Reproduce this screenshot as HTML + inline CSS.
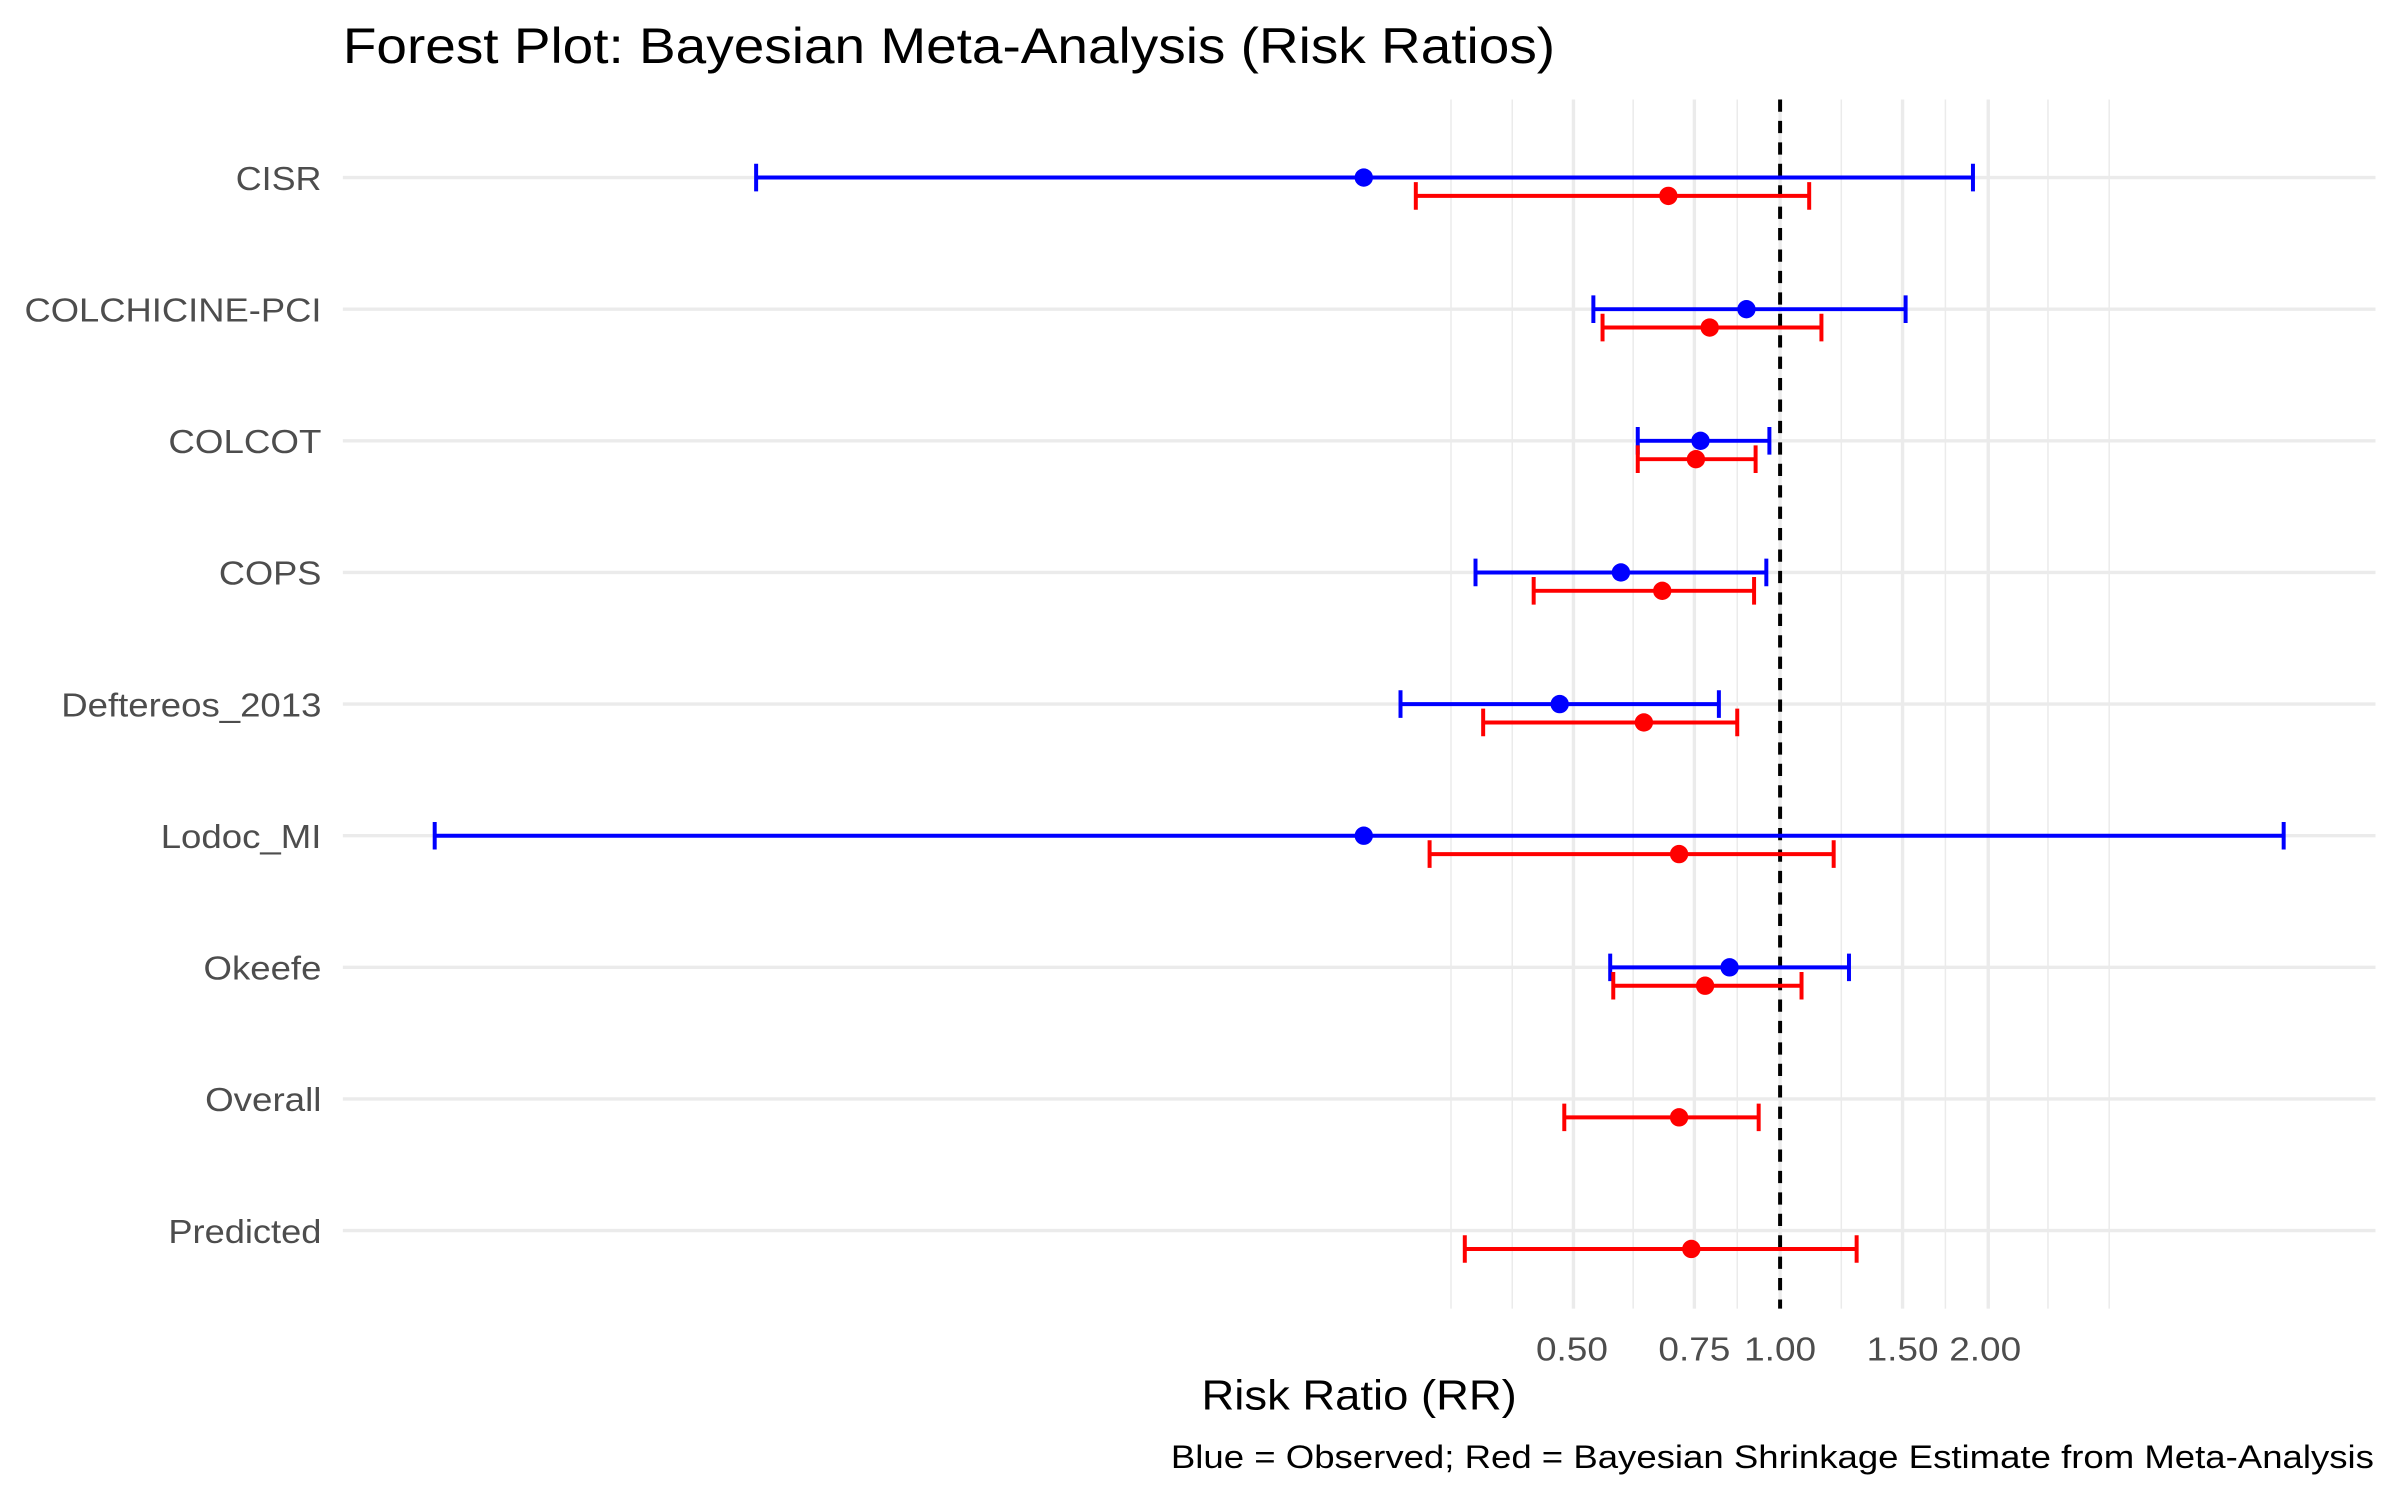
<!DOCTYPE html>
<html><head><meta charset="utf-8"><style>html,body{margin:0;padding:0;background:#fff}svg{display:block}</style></head>
<body>
<svg width="2400" height="1500" viewBox="0 0 1568 980" xmlns="http://www.w3.org/2000/svg" font-family="Liberation Sans, sans-serif">
<rect width="1568" height="980" fill="#fff"/>
<g stroke="#ebebeb" stroke-width="1">
<line x1="948" y1="65" x2="948" y2="855"/><line x1="988" y1="65" x2="988" y2="855"/>
<line x1="1067" y1="65" x2="1067" y2="855"/><line x1="1135" y1="65" x2="1135" y2="855"/>
<line x1="1203" y1="65" x2="1203" y2="855"/><line x1="1271" y1="65" x2="1271" y2="855"/>
<line x1="1338" y1="65" x2="1338" y2="855"/><line x1="1378" y1="65" x2="1378" y2="855"/>
</g>
<g stroke="#ebebeb" stroke-width="2.2">
<line x1="1028" y1="65" x2="1028" y2="855"/><line x1="1107" y1="65" x2="1107" y2="855"/>
<line x1="1163" y1="65" x2="1163" y2="855"/><line x1="1243" y1="65" x2="1243" y2="855"/>
<line x1="1299" y1="65" x2="1299" y2="855"/>
<line x1="224" y1="116" x2="1552" y2="116"/><line x1="224" y1="202" x2="1552" y2="202"/>
<line x1="224" y1="288" x2="1552" y2="288"/><line x1="224" y1="374" x2="1552" y2="374"/>
<line x1="224" y1="460" x2="1552" y2="460"/><line x1="224" y1="546" x2="1552" y2="546"/>
<line x1="224" y1="632" x2="1552" y2="632"/><line x1="224" y1="718" x2="1552" y2="718"/>
<line x1="224" y1="804" x2="1552" y2="804"/>
</g>
<line x1="1163" y1="65" x2="1163" y2="855" stroke="#000" stroke-width="2.6" stroke-dasharray="8,6"/>
<g stroke-width="2.6" fill="none">
<path stroke="#0000ff" d="M494 116H1289M494 107V125M1289 107V125"/>
<path stroke="#ff0000" d="M925 128H1182M925 119V137M1182 119V137"/>
<path stroke="#0000ff" d="M1041 202H1245M1041 193V211M1245 193V211"/>
<path stroke="#ff0000" d="M1047 214H1190M1047 205V223M1190 205V223"/>
<path stroke="#0000ff" d="M1070 288H1156M1070 279V297M1156 279V297"/>
<path stroke="#ff0000" d="M1070 300H1147M1070 291V309M1147 291V309"/>
<path stroke="#0000ff" d="M964 374H1154M964 365V383M1154 365V383"/>
<path stroke="#ff0000" d="M1002 386H1146M1002 377V395M1146 377V395"/>
<path stroke="#0000ff" d="M915 460H1123M915 451V469M1123 451V469"/>
<path stroke="#ff0000" d="M969 472H1135M969 463V481M1135 463V481"/>
<path stroke="#0000ff" d="M284 546H1492M284 537V555M1492 537V555"/>
<path stroke="#ff0000" d="M934 558H1198M934 549V567M1198 549V567"/>
<path stroke="#0000ff" d="M1052 632H1208M1052 623V641M1208 623V641"/>
<path stroke="#ff0000" d="M1054 644H1177M1054 635V653M1177 635V653"/>
<path stroke="#ff0000" d="M1022 730H1149M1022 721V739M1149 721V739"/>
<path stroke="#ff0000" d="M957 816H1213M957 807V825M1213 807V825"/>
</g>
<g fill="#0000ff">
<circle cx="891" cy="116" r="6"/><circle cx="1141" cy="202" r="6"/><circle cx="1111" cy="288" r="6"/>
<circle cx="1059" cy="374" r="6"/><circle cx="1019" cy="460" r="6"/><circle cx="891" cy="546" r="6"/>
<circle cx="1130" cy="632" r="6"/>
</g>
<g fill="#ff0000">
<circle cx="1090" cy="128" r="6"/><circle cx="1117" cy="214" r="6"/><circle cx="1108" cy="300" r="6"/>
<circle cx="1086" cy="386" r="6"/><circle cx="1074" cy="472" r="6"/><circle cx="1097" cy="558" r="6"/>
<circle cx="1114" cy="644" r="6"/><circle cx="1097" cy="730" r="6"/><circle cx="1105" cy="816" r="6"/>
</g>
<g fill="#4d4d4d" font-size="22" text-anchor="end" lengthAdjust="spacingAndGlyphs">
<text x="210" y="124" textLength="56" lengthAdjust="spacingAndGlyphs">CISR</text>
<text x="210" y="210" textLength="194" lengthAdjust="spacingAndGlyphs">COLCHICINE-PCI</text>
<text x="210" y="296" textLength="100" lengthAdjust="spacingAndGlyphs">COLCOT</text>
<text x="210" y="382" textLength="67" lengthAdjust="spacingAndGlyphs">COPS</text>
<text x="210" y="468" textLength="170" lengthAdjust="spacingAndGlyphs">Deftereos_2013</text>
<text x="210" y="554" textLength="105" lengthAdjust="spacingAndGlyphs">Lodoc_MI</text>
<text x="210" y="640" textLength="77" lengthAdjust="spacingAndGlyphs">Okeefe</text>
<text x="210" y="726" textLength="76" lengthAdjust="spacingAndGlyphs">Overall</text>
<text x="210" y="812" textLength="100" lengthAdjust="spacingAndGlyphs">Predicted</text>
</g>
<g fill="#4d4d4d" font-size="22" text-anchor="middle">
<text x="1027" y="889" textLength="47" lengthAdjust="spacingAndGlyphs">0.50</text>
<text x="1107" y="889" textLength="47" lengthAdjust="spacingAndGlyphs">0.75</text>
<text x="1163" y="889" textLength="47" lengthAdjust="spacingAndGlyphs">1.00</text>
<text x="1243" y="889" textLength="47" lengthAdjust="spacingAndGlyphs">1.50</text>
<text x="1297" y="889" textLength="47" lengthAdjust="spacingAndGlyphs">2.00</text>
</g>
<text x="785" y="921" font-size="27" textLength="206" lengthAdjust="spacingAndGlyphs">Risk Ratio (RR)</text>
<text x="224" y="41" font-size="33" textLength="792" lengthAdjust="spacingAndGlyphs">Forest Plot: Bayesian Meta-Analysis (Risk Ratios)</text>
<text x="765" y="959" font-size="21" textLength="786" lengthAdjust="spacingAndGlyphs">Blue = Observed; Red = Bayesian Shrinkage Estimate from Meta-Analysis</text>
</svg>
</body></html>
